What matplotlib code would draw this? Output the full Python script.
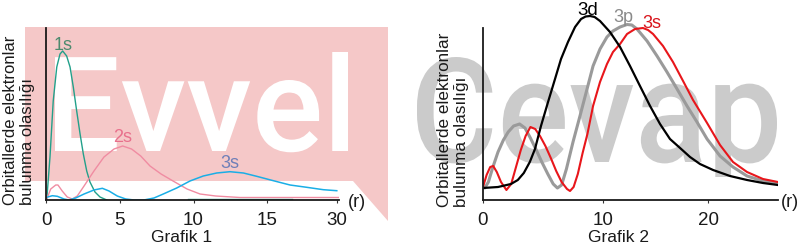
import matplotlib
matplotlib.use("Agg")
import matplotlib.pyplot as plt
from matplotlib.patches import Polygon, PathPatch, Rectangle
from matplotlib.textpath import TextPath
from matplotlib.font_manager import FontProperties
from matplotlib.transforms import Affine2D

plt.rcParams['font.family'] = ['Liberation Sans', 'DejaVu Sans']

# Grafik 1 : r (axis units) vs. probability (arbitrary units)
r_1s = [0, 0.05, 0.27, 0.49, 0.73, 0.95, 1.13, 1.4, 1.63, 1.85, 2.08, 2.31, 2.53, 2.76, 2.98, 3.32, 3.66, 4.12]
p_1s = [0, 0, 43, 99, 133, 146, 149, 144, 133, 113, 89, 66, 46, 29, 18, 8, 3, 0]
r_1s_tail = [9.6, 16.7]
p_1s_tail = [0.6, 0.6]

r_2s = [0.05, 0.32, 0.66, 0.81, 1.1, 1.44, 1.78, 2.12, 2.58, 3.25, 3.93, 4.61, 5.2, 5.8, 6.42,
        7.05, 7.8, 8.61, 9.56, 10.44, 11.5, 13.15, 19.9]
p_2s = [1, 11, 15, 15, 9, 3, 1, 4, 14, 29, 43, 51, 54, 51, 44, 34, 26, 19, 11, 6, 4, 2.5, 2.5]

r_3s_g1 = [0.05, 0.43, 0.77, 1.22, 1.56, 2.01, 2.58, 3.25, 3.82, 4.27, 4.83, 5.4, 5.97, 6.64, 7.32,
           7.95, 8.86, 9.76, 10.66, 11.57, 12.47, 13.38, 14.28, 15.41, 16.54, 17.67, 18.8, 19.71]
p_3s_g1 = [2.7, 4.3, 3.7, 1, 0, 2, 6, 10, 11.7, 9, 4, 1, 0, 0, 2, 6, 12, 19, 24, 27, 28.3, 27,
           23.7, 19.3, 15, 12.7, 10.3, 9.3]

ticks_g1 = [0, 5, 10, 15, 19.73]
ticklabels_g1 = ['0', '5', '10', '15', '30']

# Grafik 2
r_3d = [0, 1.25, 2.33, 2.9, 3.4, 3.9, 4.33, 4.83, 5.42, 6.0, 6.5, 7.08, 7.67, 8.17, 8.55, 8.92,
        9.3, 9.75, 10.58, 11.42, 12.25, 13.08, 13.92, 14.75, 15.58, 16.42, 17.25, 18.08, 19.17,
        20.58, 22.0, 23.33, 24.58]
p_3d = [12, 13, 16, 20, 27, 38, 51, 74, 98, 121, 141, 158, 173, 181, 183.5, 184, 183, 179, 168,
        153, 134, 114, 94, 76, 61, 52, 43, 36, 30, 24, 20, 17, 15]

r_3p = [0.15, 0.45, 0.8, 1.25, 1.7, 2.1, 2.55, 3.05, 3.5, 3.95, 4.4, 4.9, 5.4, 5.85, 6.2, 6.55,
        6.95, 7.5, 8.08, 8.67, 9.17, 9.75, 10.33, 10.83, 11.42, 12.0, 12.4, 12.83, 13.67, 14.5,
        15.33, 16.17, 17.0, 17.83, 18.67, 19.75, 20.83, 22.0, 23.33, 24.58]
p_3p = [12, 18, 32, 48, 60, 68, 74, 76, 72, 62, 51, 38, 26, 16, 12, 15, 31, 58, 84, 111, 134,
        151, 163, 169, 173, 175.5, 175, 171, 159, 144, 128, 111, 94, 78, 61, 44, 33, 24, 19, 17]

r_3s_g2 = [0, 0.3, 0.6, 0.85, 1.15, 1.5, 1.95, 2.35, 2.75, 3.15, 3.55, 3.95, 4.35, 4.75, 5.2,
           5.65, 6.1, 6.55, 7.0, 7.25, 7.55, 7.9, 8.3, 8.7, 9.17, 9.75, 10.33, 10.83, 11.42, 12.0,
           12.67, 13.33, 13.75, 14.17, 15.0, 15.83, 16.67, 17.5, 18.67, 19.75, 20.83, 22.0,
           23.33, 24.58]
p_3s_g2 = [13, 25, 33, 34, 28, 18, 10, 16, 33, 50, 64, 73, 71, 64, 54, 42, 29, 18, 11, 9, 13,
           26, 47, 66, 94, 118, 136, 148, 156, 166, 171, 172, 170, 166, 154, 138, 119, 100, 77,
           55, 38, 28, 21, 18]

ticks_g2 = [0, 10, 18.75]
ticklabels_g2 = ['0', '10', '20']

ylabel = 'Orbitallerde elektronlar\nbulunma olasılığı'

W, H = 800, 251
fig = plt.figure(figsize=(W / 100, H / 100), dpi=100)

# background layer in pixel coordinates (pink box + watermarks)
bg = fig.add_axes([0, 0, 1, 1], zorder=0)
bg.set_xlim(0, W)
bg.set_ylim(H, 0)
bg.axis('off')
bg.add_patch(Polygon([(25, 28), (388, 28), (388, 222), (353, 182), (25, 182)],
                     closed=True, facecolor='#f5c8c8', edgecolor='none', zorder=1))


def watermark(text, left, right, top, base, color, clip_bottom=None):
    fp = FontProperties(family=['Roboto', 'Liberation Sans'], weight='medium')
    tp = TextPath((0, 0), text, size=100, prop=fp)
    ext = tp.get_extents()
    sx = (right - left) / ext.width
    sy = (base - top) / ext.y1
    tr = Affine2D().translate(-ext.x0, 0).scale(sx, -sy).translate(left, base)
    patch = PathPatch(tr.transform_path(tp), facecolor=color, edgecolor='none', zorder=2)
    bg.add_patch(patch)
    if clip_bottom is not None:
        patch.set_clip_path(Rectangle((0, 0), W, clip_bottom, transform=bg.transData))


watermark('Evvel', 55, 348, 53, 152, 'white')
watermark('Cevap', 417, 777, 58, 163, '#cbcbcb', clip_bottom=178)


def make_axes(x0, x1, xmax):
    ax = fig.add_axes([x0 / W, (H - 201) / H, (x1 - x0) / W, 201 / H], zorder=1)
    ax.set_facecolor('none')
    ax.set_xlim(0, xmax)
    ax.set_ylim(0, 201)
    for s in ['top', 'right']:
        ax.spines[s].set_visible(False)
    for s in ['left', 'bottom']:
        ax.spines[s].set_color('#1a1a1a')
        ax.spines[s].set_linewidth(1.3)
    ax.spines['left'].set_bounds(0, 172)
    ax.set_yticks([])
    ax.tick_params(axis='x', length=2.5, width=0.8, color='#333333', pad=5.5,
                   labelsize=13.5, labelcolor='#1a1a1a')
    return ax


# Grafik 1
ax1 = make_axes(46, 339, 19.86)
ax1.plot(r_1s, p_1s, color='#22a08a', lw=1.0)
ax1.plot(r_1s_tail, p_1s_tail, color='#22a08a', lw=1.0)
ax1.plot(r_2s, p_2s, color='#f08ca2', lw=1.0)
ax1.plot(r_3s_g1, p_3s_g1, color='#1aaee6', lw=1.1)
ax1.set_xticks(ticks_g1, ticklabels_g1)
ax1.text(1.15, 156, '1s', color='#4d8a6e', fontsize=13, ha='center', va='center')
ax1.text(5.22, 63, '2s', color='#e8708c', fontsize=13, ha='center', va='center')
ax1.text(12.47, 38, '3s', color='#6f7fb8', fontsize=13, ha='center', va='center')
ax1.text(21.08, -2, '(r)', fontsize=13, ha='center', va='center', color='#1a1a1a', clip_on=False)
ax1.text(9.22, -37, 'Grafik 1', fontsize=12.5, ha='center', va='center', color='#1a1a1a', clip_on=False)
ax1.text(-1.83, -4, ylabel, rotation=90, fontsize=12, ha='center', va='bottom',
         multialignment='left', color='#1a1a1a', clip_on=False)

# Grafik 2
ax2 = make_axes(483, 778, 24.58)
ax2.plot(r_3p, p_3p, color='#9a9a9a', lw=2.2, solid_capstyle='round', solid_joinstyle='round')
ax2.plot(r_3s_g2, p_3s_g2, color='#e8161b', lw=1.5, solid_joinstyle='round')
ax2.plot(r_3d, p_3d, color='black', lw=1.6, solid_joinstyle='round')
ax2.set_xticks(ticks_g2, ticklabels_g2)
ax2.text(8.7, 190.5, '3d', color='black', fontsize=13.5, ha='center', va='center', clip_on=False)
ax2.text(11.67, 183, '3p', color='#8a8a8a', fontsize=13, ha='center', va='center', clip_on=False)
ax2.text(14.08, 178, '3s', color='#d8141b', fontsize=13, ha='center', va='center', clip_on=False)
ax2.text(25.58, -2, '(r)', fontsize=13, ha='center', va='center', color='#1a1a1a', clip_on=False)
ax2.text(11.25, -37, 'Grafik 2', fontsize=12.5, ha='center', va='center', color='#1a1a1a', clip_on=False)
ax2.text(-2.5, -6, ylabel, rotation=90, fontsize=12.3, ha='center', va='bottom',
         multialignment='left', color='#1a1a1a', clip_on=False)

fig.savefig('out.png', dpi=100)
